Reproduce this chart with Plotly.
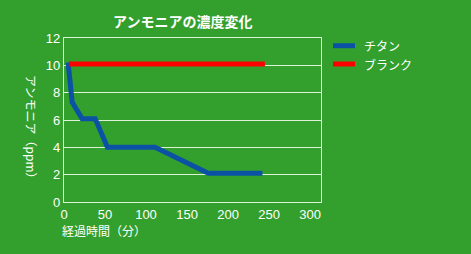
import plotly.graph_objects as go

title = "アンモニアの濃度変化"
x_title = "経過時間（分）"
y_title = "アンモニア（ppm）"

series_names = ["チタン", "ブランク"]
series_colors = ["#0c52a4", "#ff0000"]
titan_time = [5, 10, 22, 38, 53, 111, 176, 242]
titan_ppm = [10.2, 7.3, 6.1, 6.1, 4.0, 4.0, 2.1, 2.1]
blank_time = [6, 245]
blank_ppm = [10.1, 10.1]

x_ticks = [0, 50, 100, 150, 200, 250, 300]
y_ticks = [0, 2, 4, 6, 8, 10, 12]

BG = "#33a02e"
FONT = "Liberation Sans, Noto Sans CJK JP, sans-serif"
GRID = "rgba(240,248,235,0.9)"

L, R, T, B = 64, 150, 38, 52
PW, PH = 471 - L - R, 254 - T - B


def px(xp):
    return (xp - L) / PW


def py(yp):
    return (254 - B - yp) / PH


fig = go.Figure()
fig.add_trace(go.Scatter(x=titan_time, y=titan_ppm, mode="lines", name=series_names[0],
                         line=dict(color=series_colors[0], width=5)))
fig.add_trace(go.Scatter(x=blank_time, y=blank_ppm, mode="lines", name=series_names[1],
                         line=dict(color=series_colors[1], width=5)))

shapes = []
annotations = [
    dict(text=title, xref="paper", yref="paper", x=px(182), y=py(21),
         xanchor="center", yanchor="middle", showarrow=False,
         font=dict(size=14, color="white", family="Noto Sans CJK JP", weight="bold")),
    dict(text=x_title, xref="paper", yref="paper", x=px(60), y=py(230),
         xanchor="left", yanchor="middle", showarrow=False,
         font=dict(size=12, color="white", family="Noto Sans CJK JP")),
    dict(text=y_title, xref="paper", yref="paper", x=px(32), y=py(130),
         xanchor="center", yanchor="middle", showarrow=False, textangle=90,
         font=dict(size=12, color="white", family="Noto Sans CJK JP")),
]
for i, (name, col) in enumerate(zip(series_names, series_colors)):
    yy = 45.7 + i * 18.3
    shapes.append(dict(type="line", xref="paper", yref="paper",
                       x0=px(333), x1=px(355), y0=py(yy), y1=py(yy),
                       line=dict(color=col, width=5)))
    annotations.append(dict(text=name, xref="paper", yref="paper", x=px(362), y=py(yy),
                            xanchor="left", yanchor="middle", showarrow=False,
                            font=dict(size=12, color="white", family="Noto Sans CJK JP")))

fig.update_layout(
    width=471, height=254,
    margin=dict(l=L, r=R, t=T, b=B),
    paper_bgcolor=BG, plot_bgcolor=BG,
    font=dict(family=FONT, color="white", size=13),
    showlegend=False,
    xaxis=dict(range=[0, 313.4], tickvals=x_ticks, ticktext=[str(v) for v in x_ticks],
               showgrid=False, zeroline=False, showline=True, mirror=True,
               linecolor=GRID, linewidth=1.2, ticks="",
               tickfont=dict(size=13, color="white")),
    yaxis=dict(range=[0, 12], tickvals=y_ticks, ticktext=[str(v) for v in y_ticks],
               showgrid=True, gridcolor=GRID, gridwidth=1.2, zeroline=False,
               showline=True, mirror=True, linecolor=GRID, linewidth=1.2, ticks="",
               tickfont=dict(size=13, color="white")),
    shapes=shapes,
    annotations=annotations,
)

fig.write_html("out.html")
